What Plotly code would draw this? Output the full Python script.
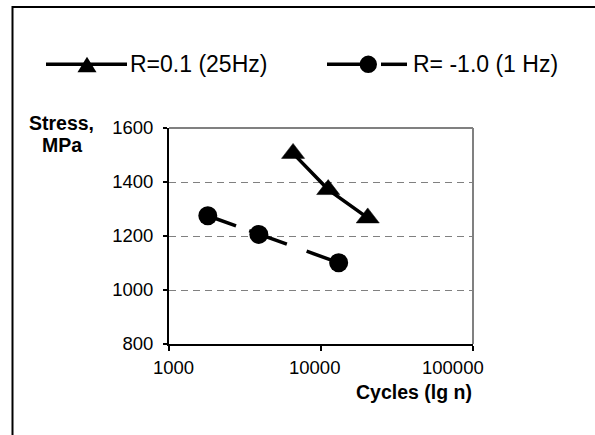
import math
import plotly.graph_objects as go

# ---- data ----
series_names = ["R=0.1 (25Hz)", "R= -1.0 (1 Hz)"]
tri_cycles = [6550, 11150, 20300]
tri_stress = [1506, 1372, 1267]
circ_cycles = [1800, 3900, 13070]
circ_stress = [1275, 1206, 1101]
x_tickvals = [1000, 10000, 100000]
x_ticktext = ["1000", "10000", "100000"]
y_tickvals = [800, 1000, 1200, 1400, 1600]
y_ticktext = ["800", "1000", "1200", "1400", "1600"]

FONT = "Liberation Sans, Arial, sans-serif"
W, H = 595, 435
L, R, T, B = 169, 122, 128, 91
PW, PH = W - L - R, H - T - B


def px(x):
    return (x - L) / PW


def py(y):
    return (H - B - y) / PH


fig = go.Figure()
fig.add_trace(go.Scatter(
    x=tri_cycles, y=tri_stress, mode="lines+markers", name=series_names[0],
    line=dict(color="black", width=3.5),
    marker=dict(symbol="triangle-up", size=20, color="black",
                line=dict(color="black", width=0.5)),
    showlegend=False))
fig.add_trace(go.Scatter(
    x=circ_cycles, y=circ_stress, mode="lines+markers", name=series_names[1],
    line=dict(color="black", width=3.5, dash="30px,14px,40px,21px"),
    marker=dict(symbol="circle", size=19, color="black"),
    showlegend=False))

shapes = []
# outer chart frame
shapes.append(dict(type="rect", xref="paper", yref="paper",
                   x0=px(12.5), x1=px(620), y0=py(460), y1=py(7),
                   line=dict(color="black", width=2), layer="below"))
# top and right plot borders (gray)
shapes.append(dict(type="line", xref="paper", yref="paper", x0=0, x1=1, y0=1, y1=1,
                   line=dict(color="#808080", width=2), layer="above"))
shapes.append(dict(type="line", xref="paper", yref="paper", x0=1, x1=1, y0=0, y1=1,
                   line=dict(color="#808080", width=2), layer="above"))

# legend keys
ly = py(64.3)
shapes.append(dict(type="line", xref="paper", yref="paper", x0=px(46), x1=px(127), y0=ly, y1=ly,
                   line=dict(color="black", width=3.5)))
shapes.append(dict(type="path", xref="paper", yref="paper",
                   xsizemode="pixel", ysizemode="pixel", xanchor=px(87), yanchor=ly,
                   path="M-9.5,-8 L9.5,-8 L0,7.5 Z", fillcolor="black",
                   line=dict(color="black", width=0)))
shapes.append(dict(type="line", xref="paper", yref="paper", x0=px(327), x1=px(370), y0=ly, y1=ly,
                   line=dict(color="black", width=3.5)))
shapes.append(dict(type="line", xref="paper", yref="paper", x0=px(381), x1=px(407), y0=ly, y1=ly,
                   line=dict(color="black", width=3.5)))
shapes.append(dict(type="circle", xref="paper", yref="paper",
                   xsizemode="pixel", ysizemode="pixel", xanchor=px(368.3), yanchor=ly,
                   x0=-8.7, x1=8.7, y0=-8.7, y1=8.7, fillcolor="black",
                   line=dict(color="black", width=0)))

annotations = [
    dict(text=series_names[0], xref="paper", yref="paper", x=px(128), y=ly,
         xanchor="left", yanchor="middle", showarrow=False,
         font=dict(family=FONT, size=23, color="black")),
    dict(text=series_names[1], xref="paper", yref="paper", x=px(411), y=ly,
         xanchor="left", yanchor="middle", showarrow=False,
         font=dict(family=FONT, size=23, color="black")),
    dict(text="<b>Stress,</b>", xref="paper", yref="paper", x=px(61.5), y=py(123),
         xanchor="center", yanchor="middle", showarrow=False,
         font=dict(family=FONT, size=19.5, color="black")),
    dict(text="<b>MPa</b>", xref="paper", yref="paper", x=px(61.5), y=py(145),
         xanchor="center", yanchor="middle", showarrow=False,
         font=dict(family=FONT, size=19.5, color="black")),
    dict(text="<b>Cycles (lg n)</b>", xref="paper", yref="paper", x=px(413.7), y=py(392),
         xanchor="center", yanchor="middle", showarrow=False,
         font=dict(family=FONT, size=19.5, color="black")),
]

# x tick labels (placed as in the reference, slightly off-centre from the ticks)
x_label_shift = [4, -7, -20]
for v, t, s in zip(x_tickvals, x_ticktext, x_label_shift):
    annotations.append(dict(text=t, xref="x", yref="paper", x=math.log10(v), y=0,
                            xanchor="center", yanchor="top", xshift=s, yshift=-11,
                            showarrow=False,
                            font=dict(family=FONT, size=18.5, color="black")))

fig.update_layout(
    width=W, height=H,
    margin=dict(l=L, r=R, t=T, b=B, pad=0),
    paper_bgcolor="white", plot_bgcolor="white",
    shapes=shapes, annotations=annotations,
    showlegend=False,
    font=dict(family=FONT, size=18.5, color="black"),
    xaxis=dict(type="log", range=[3, 5], tickvals=x_tickvals, ticktext=x_ticktext,
               showticklabels=False,
               showline=True, linecolor="black", linewidth=2,
               ticks="outside", ticklen=5, tickwidth=1.5, tickcolor="black",
               showgrid=False, zeroline=False),
    yaxis=dict(range=[800, 1600], tickvals=y_tickvals, ticktext=y_ticktext,
               showline=True, linecolor="black", linewidth=2,
               ticks="outside", ticklen=4, tickwidth=1.5, tickcolor="black",
               showgrid=True, gridcolor="#808080", gridwidth=1, griddash="7px,5px",
               zeroline=False, ticklabelstandoff=6,
               tickfont=dict(family=FONT, size=18.5, color="black")),
)

fig.write_html("out.html")
